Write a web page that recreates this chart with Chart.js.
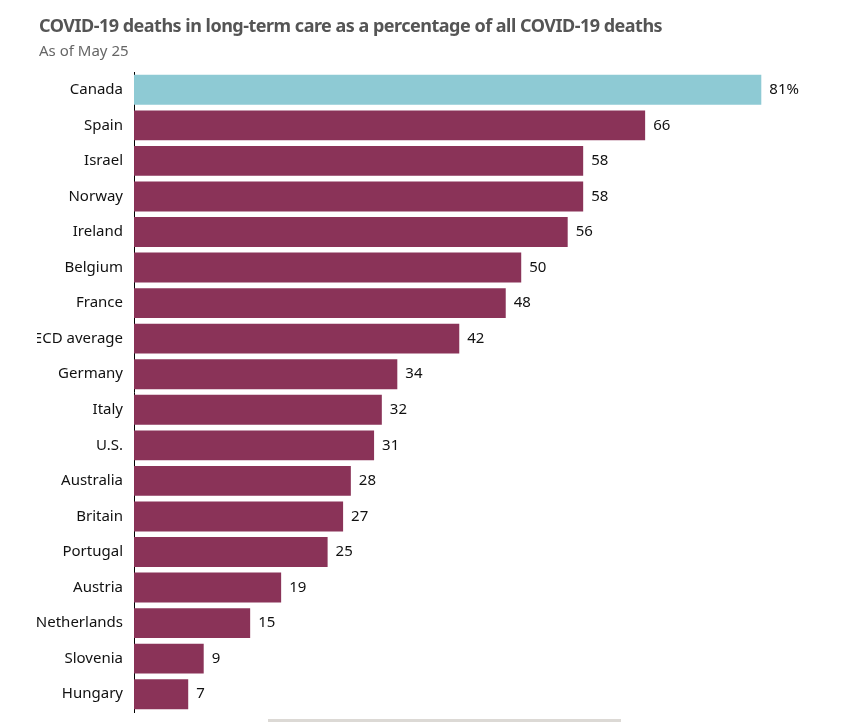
<!DOCTYPE html>
<html>
<head>
<meta charset="utf-8">
<script src="https://cdn.jsdelivr.net/npm/chart.js@4/dist/chart.umd.min.js"></script>
<style>
  body { margin: 0; background: #fff; overflow: hidden; }
  #wrap { position: absolute; left: 37px; top: 0; width: 810px; height: 722px; }
  #title { position: absolute; left: 39px; top: 13px; font: bold 18px "Noto Sans", sans-serif; letter-spacing: -0.5px; color: #555; white-space: nowrap; }
  #sub { position: absolute; left: 39px; top: 40px; font: 15px "Noto Sans", sans-serif; color: #666; }
  #scroll { position: absolute; left: 268px; top: 719px; width: 353px; height: 3px; background: #dcd9d5; }
</style>
</head>
<body>
<div id="wrap"><canvas id="chart"></canvas></div>
<div id="title">COVID-19 deaths in long-term care as a percentage of all COVID-19 deaths</div>
<div id="sub">As of May 25</div>
<div id="scroll"></div>
<script>
const countries = ["Canada", "Spain", "Israel", "Norway", "Ireland", "Belgium", "France", "OECD average",
  "Germany", "Italy", "U.S.", "Australia", "Britain", "Portugal", "Austria", "Netherlands", "Slovenia", "Hungary"];
const shares = [81, 66, 58, 58, 56, 50, 48, 42, 34, 32, 31, 28, 27, 25, 19, 15, 9, 7];
const highlight = "Canada";

const barColors = countries.map(c => c === highlight ? "#8ecad4" : "#8a3358");

// value labels to the right of each bar
const valueLabels = {
  id: "valueLabels",
  afterDatasetsDraw(chart) {
    const ctx = chart.ctx;
    const meta = chart.getDatasetMeta(0);
    ctx.save();
    ctx.font = '15px "Noto Sans", sans-serif';
    ctx.fillStyle = "#111";
    ctx.textAlign = "left";
    ctx.textBaseline = "middle";
    meta.data.forEach((bar, i) => {
      const txt = shares[i] + (i === 0 ? "%" : "");
      ctx.fillText(txt, bar.x + 8, bar.y);
    });
    ctx.restore();
  }
};

new Chart(document.getElementById("chart"), {
  type: "bar",
  data: {
    labels: countries,
    datasets: [{
      data: shares,
      backgroundColor: barColors,
      categoryPercentage: 1,
      barPercentage: 0.84,
    }]
  },
  options: {
    indexAxis: "y",
    responsive: true,
    maintainAspectRatio: false,
    animation: false,
    layout: { padding: { top: 72, bottom: 10, left: 0, right: 16 } },
    scales: {
      x: { display: false, min: 0, max: 90 },
      y: {
        grid: { display: false, drawTicks: false },
        border: { display: true, color: "#000", width: 1 },
        afterFit(scale) {
          scale.width = 97;
          scale.paddingTop = 0;
          scale.paddingBottom = 0;
        },
        ticks: {
          padding: 11,
          color: "#111",
          font: { family: "Noto Sans", size: 15 },
        },
      },
    },
    plugins: {
      legend: { display: false },
      tooltip: { enabled: false },
    },
  },
  plugins: [valueLabels],
});
</script>
</body>
</html>
